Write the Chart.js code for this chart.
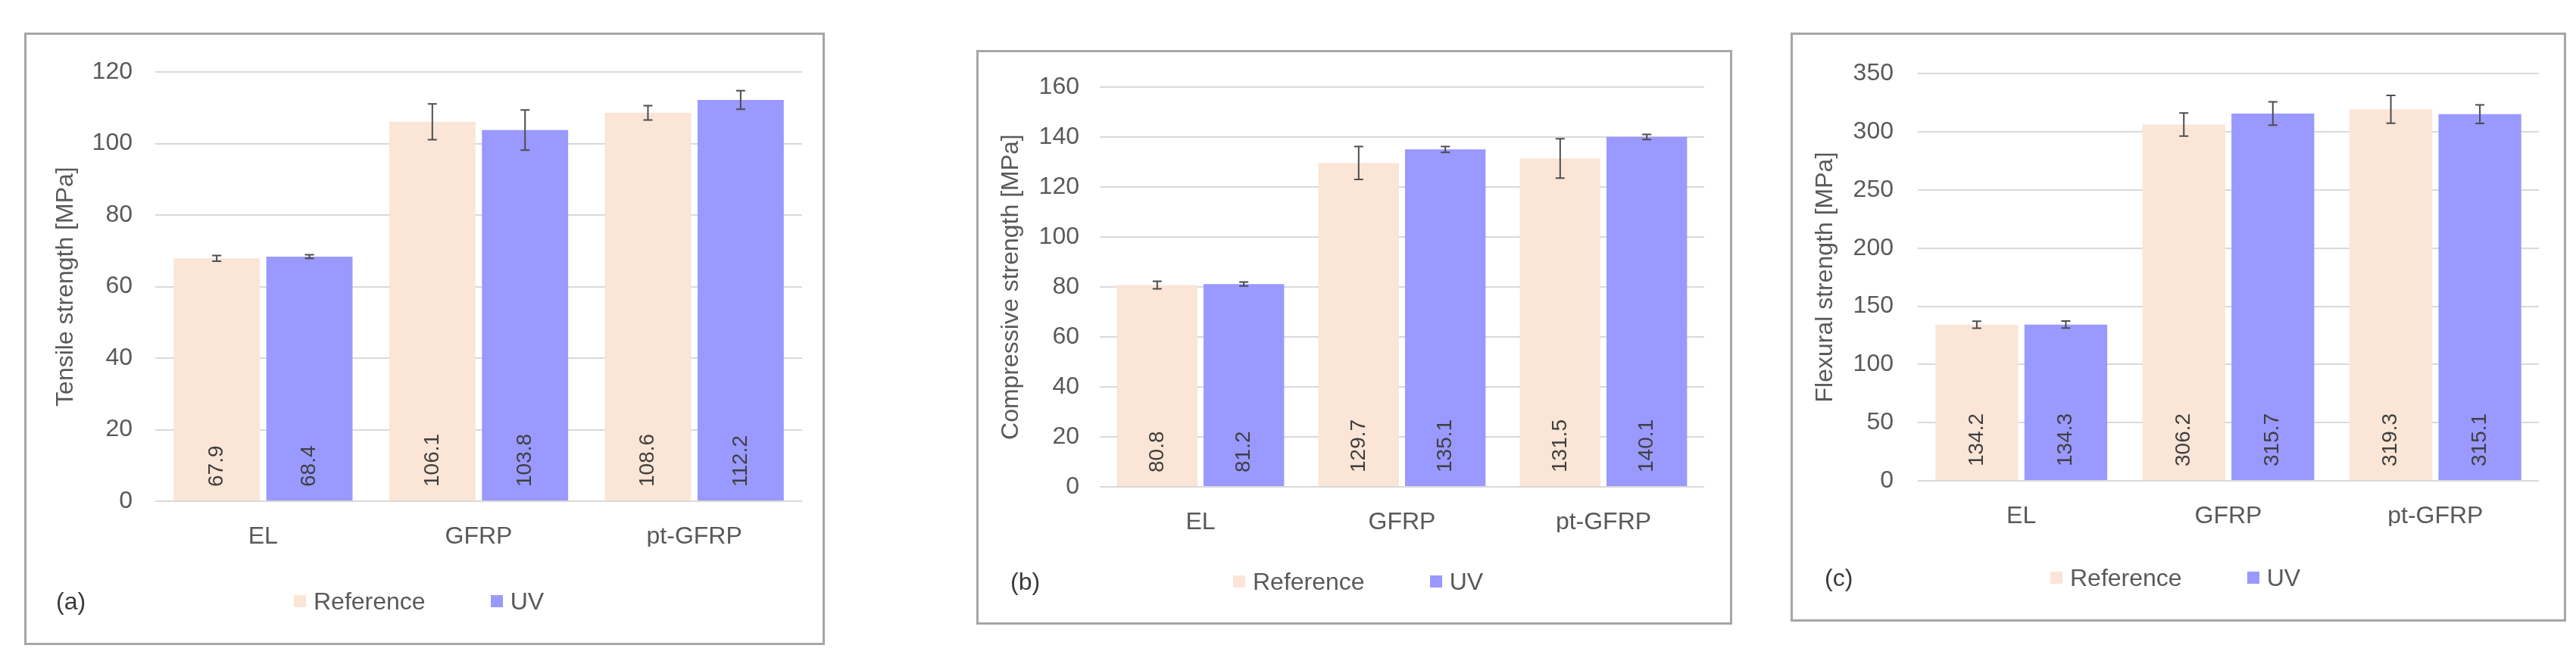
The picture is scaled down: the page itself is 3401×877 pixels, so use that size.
<!DOCTYPE html>
<html>
<head>
<meta charset="utf-8">
<script src="https://cdn.jsdelivr.net/npm/chart.js@4.4.1/dist/chart.umd.min.js"></script>
<style>
  html, body { margin: 0; padding: 0; background: #fff; }
  body { width: 3401px; height: 877px; position: relative; overflow: hidden;
         font-family: "Liberation Sans", Arial, sans-serif; }
  .panel { position: absolute; box-sizing: border-box; border: 3px solid #a6a6a6; background: #fff; }
  .panel .plot { position: absolute; left: 0; top: 0; right: 0; bottom: 0; }
  .tag { position: absolute; font-size: 32px; color: #3a3a3a; line-height: 1; transform: translateY(-50%); }
  .legend { position: absolute; display: flex; align-items: center; font-size: 32px; color: #595959;
            line-height: 1; transform: translateY(-50%); white-space: nowrap; }
  .legend span { display: flex; align-items: center; margin-right: 86px; }
  .legend i { display: inline-block; width: 16px; height: 16px; margin-right: 10px; }
</style>
</head>
<body>
<script>
(function () {
  "use strict";

  // ---- data ----
  var CATEGORIES = ["EL", "GFRP", "pt-GFRP"];
  var SERIES = ["Reference", "UV"];

  var TENSILE_REF = [67.9, 106.1, 108.6];
  var TENSILE_UV = [68.4, 103.8, 112.2];
  var TENSILE_REF_ERR = [0.8, 5.0, 2.0];
  var TENSILE_UV_ERR = [0.5, 5.6, 2.6];
  var TENSILE_TICKS = [0, 20, 40, 60, 80, 100, 120];

  var COMP_REF = [80.8, 129.7, 131.5];
  var COMP_UV = [81.2, 135.1, 140.1];
  var COMP_REF_ERR = [1.5, 6.6, 7.9];
  var COMP_UV_ERR = [0.8, 1.2, 1.0];
  var COMP_TICKS = [0, 20, 40, 60, 80, 100, 120, 140, 160];

  var FLEX_REF = [134.2, 306.2, 319.3];
  var FLEX_UV = [134.3, 315.7, 315.1];
  var FLEX_REF_ERR = [3, 10, 12];
  var FLEX_UV_ERR = [3, 10, 8];
  var FLEX_TICKS = [0, 50, 100, 150, 200, 250, 300, 350];

  // ---- look ----
  var FONT = "'Liberation Sans', Arial, sans-serif";
  var REF_COLOR = "#fbe5d6", UV_COLOR = "#9999ff";
  var TEXT = "#595959", GRID = "#d9d9d9", ERR = "#4d4d4d", LABEL = "#3f3f3f";
  var XAXIS_H = 60;

  Chart.defaults.font.family = FONT;
  Chart.defaults.font.size = 32;

  // page-coordinate layout of each panel (box, plot area, text anchors)
  var PANELS = [
    { tag: "(a)", title: "Tensile strength [MPa]", ref: TENSILE_REF, uv: TENSILE_UV,
      refErr: TENSILE_REF_ERR, uvErr: TENSILE_UV_ERR, ticks: TENSILE_TICKS,
      box: [32, 43, 1089, 852], area: [205, 1059, 86, 662], tickRight: 175, titleX: 87,
      legend: [388, 794], tagPos: [74, 794] },
    { tag: "(b)", title: "Compressive strength [MPa]", ref: COMP_REF, uv: COMP_UV,
      refErr: COMP_REF_ERR, uvErr: COMP_UV_ERR, ticks: COMP_TICKS,
      box: [1289, 66, 2287, 825], area: [1452, 2250, 108, 643], tickRight: 1425, titleX: 1335,
      legend: [1628, 768], tagPos: [1334, 768] },
    { tag: "(c)", title: "Flexural strength [MPa]", ref: FLEX_REF, uv: FLEX_UV,
      refErr: FLEX_REF_ERR, uvErr: FLEX_UV_ERR, ticks: FLEX_TICKS,
      box: [2364, 43, 3388, 821], area: [2532, 3352, 85, 635], tickRight: 2500, titleX: 2410,
      legend: [2707, 763], tagPos: [2409, 763] }
  ];

  // vertical value labels sitting at the foot of each bar
  var barLabels = {
    id: "barLabels",
    afterDatasetsDraw: function (chart) {
      var ctx = chart.ctx;
      chart.data.datasets.forEach(function (ds, i) {
        chart.getDatasetMeta(i).data.forEach(function (bar, j) {
          ctx.save();
          ctx.translate(bar.x, bar.base - 18);
          ctx.rotate(-Math.PI / 2);
          ctx.font = "28px " + FONT;
          ctx.fillStyle = LABEL;
          ctx.textAlign = "left";
          ctx.textBaseline = "middle";
          ctx.fillText(ds.data[j].toFixed(1), 0, 0);
          ctx.restore();
        });
      });
    }
  };

  // +/- error whiskers, placed through the y scale
  var errorBars = {
    id: "errorBars",
    afterDatasetsDraw: function (chart) {
      var ctx = chart.ctx, y = chart.scales.y;
      chart.data.datasets.forEach(function (ds, i) {
        chart.getDatasetMeta(i).data.forEach(function (bar, j) {
          var v = ds.data[j], e = ds.errors[j];
          var top = y.getPixelForValue(v + e), bot = y.getPixelForValue(v - e);
          ctx.save();
          ctx.strokeStyle = ERR;
          ctx.lineWidth = 2;
          ctx.beginPath();
          ctx.moveTo(bar.x, top); ctx.lineTo(bar.x, bot);
          ctx.moveTo(bar.x - 6, top); ctx.lineTo(bar.x + 6, top);
          ctx.moveTo(bar.x - 6, bot); ctx.lineTo(bar.x + 6, bot);
          ctx.stroke();
          ctx.restore();
        });
      });
    }
  };

  function el(tag, cls) { var e = document.createElement(tag); if (cls) e.className = cls; return e; }

  function panel(p) {
    var w = p.box[2] - p.box[0], h = p.box[3] - p.box[1];
    var box = el("div", "panel");
    box.style.left = p.box[0] + "px"; box.style.top = p.box[1] + "px";
    box.style.width = w + "px"; box.style.height = h + "px";
    var wrap = el("div", "plot"), cv = el("canvas");
    wrap.appendChild(cv); box.appendChild(wrap);
    document.body.appendChild(box);

    var ox = p.box[0] + 3, oy = p.box[1] + 3, iw = w - 6, ih = h - 6;
    var aL = p.area[0] - ox, aR = p.area[1] - ox, aT = p.area[2] - oy, aB = p.area[3] - oy;

    new Chart(cv, {
      type: "bar",
      data: {
        labels: CATEGORIES,
        datasets: [
          { label: SERIES[0], data: p.ref, errors: p.refErr, backgroundColor: REF_COLOR },
          { label: SERIES[1], data: p.uv, errors: p.uvErr, backgroundColor: UV_COLOR }
        ]
      },
      options: {
        responsive: true, maintainAspectRatio: false, animation: false,
        layout: { padding: { left: 0, top: aT, right: iw - aR, bottom: ih - aB - XAXIS_H } },
        datasets: { bar: { categoryPercentage: 0.86, barPercentage: 0.93 } },
        plugins: { legend: { display: false }, tooltip: { enabled: false } },
        scales: {
          x: {
            grid: { display: false, drawTicks: false }, border: { display: false },
            ticks: { color: TEXT, font: { size: 32 }, padding: 28 },
            afterFit: function (s) { s.height = XAXIS_H; }
          },
          y: {
            min: p.ticks[0], max: p.ticks[p.ticks.length - 1],
            grid: { color: GRID, lineWidth: 2, drawTicks: false }, border: { display: false },
            ticks: { color: TEXT, font: { size: 32 }, padding: aL - (p.tickRight - ox) },
            afterBuildTicks: function (s) { s.ticks = p.ticks.map(function (v) { return { value: v }; }); },
            title: { display: true, text: p.title, color: TEXT, font: { size: 32 },
                     padding: { top: (p.titleX - ox) - 19.2, bottom: 0 } },
            afterFit: function (s) { s.width = aL; }
          }
        }
      },
      plugins: [barLabels, errorBars]
    });

    var lg = el("div", "legend");
    lg.style.left = p.legend[0] + "px"; lg.style.top = p.legend[1] + "px";
    lg.innerHTML = SERIES.map(function (name, i) {
      return "<span><i style='background:" + (i ? UV_COLOR : REF_COLOR) + "'></i>" + name + "</span>";
    }).join("");
    document.body.appendChild(lg);

    var tg = el("div", "tag");
    tg.style.left = p.tagPos[0] + "px"; tg.style.top = p.tagPos[1] + "px";
    tg.textContent = p.tag;
    document.body.appendChild(tg);
  }

  PANELS.forEach(panel);
})();
</script>
</body>
</html>
